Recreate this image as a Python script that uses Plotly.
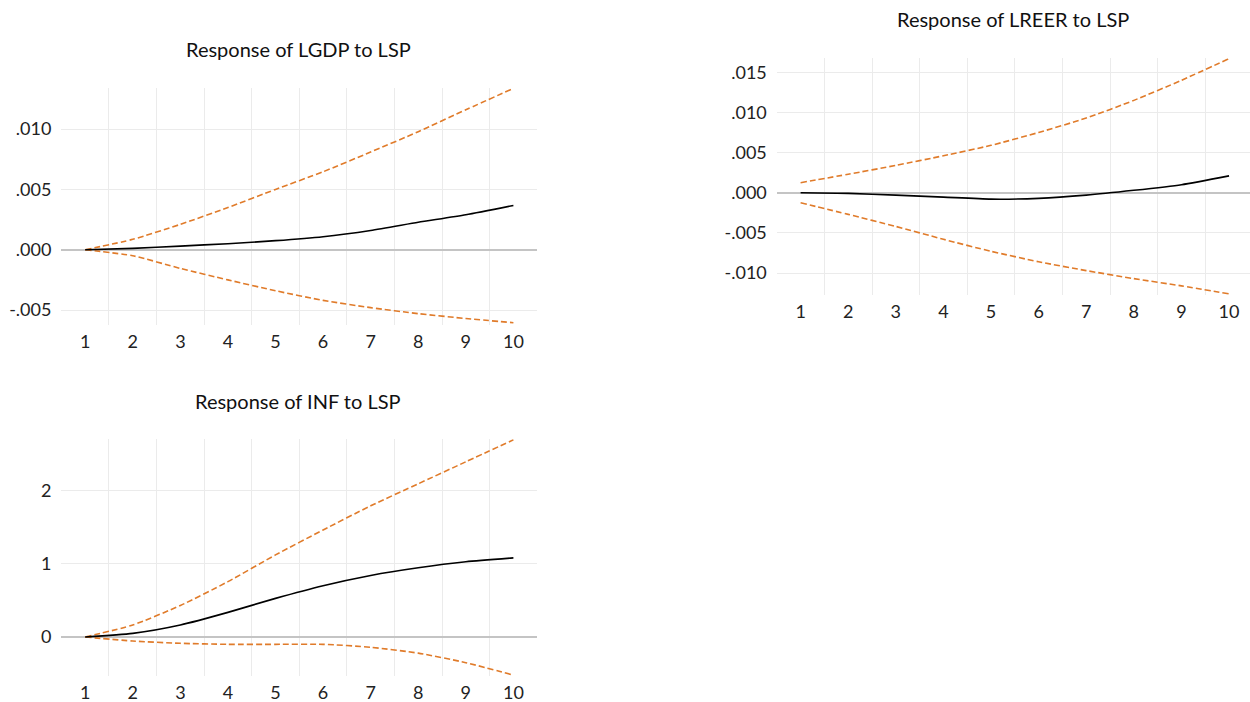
import plotly.graph_objects as go

periods = [1, 2, 3, 4, 5, 6, 7, 8, 9, 10]

# Response of LGDP to LSP
lgdp_resp = [0.0, 0.00011, 0.0003, 0.0005, 0.00075, 0.00108, 0.0016, 0.00227, 0.0029, 0.00367]
lgdp_upper = [0.0, 0.00086, 0.0021, 0.0035, 0.0050, 0.00646, 0.0081, 0.00978, 0.0116, 0.01337]
lgdp_lower = [0.0, -0.0005, -0.00155, -0.0025, -0.0034, -0.0042, -0.0048, -0.0053, -0.0057, -0.00605]

# Response of LREER to LSP
lreer_resp = [0.0, -0.00008, -0.0003, -0.00055, -0.0008, -0.0007, -0.0003, 0.0003, 0.0010, 0.0021]
lreer_upper = [0.00125, 0.0023, 0.0034, 0.0046, 0.0059, 0.0075, 0.0093, 0.0115, 0.0140, 0.0167]
lreer_lower = [-0.00125, -0.0027, -0.0042, -0.0058, -0.0073, -0.0086, -0.0097, -0.0107, -0.0116, -0.0126]

# Response of INF to LSP
inf_resp = [0.0, 0.05, 0.164, 0.336, 0.527, 0.70, 0.84, 0.945, 1.027, 1.08]
inf_upper = [0.0, 0.164, 0.43, 0.755, 1.12, 1.46, 1.79, 2.09, 2.39, 2.69]
inf_lower = [0.0, -0.055, -0.086, -0.10, -0.10, -0.10, -0.14, -0.22, -0.35, -0.52]

titles = ["Response of LGDP to LSP", "Response of LREER to LSP", "Response of INF to LSP"]

W, H = 1250, 702
ORANGE = "#E07B2A"
GRID = "#ebebeb"
FONT = "Lato, 'Open Sans', sans-serif"

# pixel boxes of each panel: (left, right, top, bottom) and the x range shown
boxes = [(61.4, 537.2, 88.3, 325.0), (776.8, 1250.0, 58.3, 295.0), (61.4, 537.2, 439.3, 676.0)]
xranges = [(0.5, 10.5), (0.5, 10.44), (0.5, 10.5)]
yranges = [(-0.00624, 0.01338), (-0.01274, 0.01674), (-0.532, 2.697)]
title_y = [48.5, 19.3, 401.0]
title_x = [298.2, 1013.2, 298.2]
ytickvals = [[-0.005, 0.0, 0.005, 0.010],
             [-0.010, -0.005, 0.0, 0.005, 0.010, 0.015],
             [0, 1, 2]]
yticktext = [["-.005", ".000", ".005", ".010"],
             ["-.010", "-.005", ".000", ".005", ".010", ".015"],
             ["0", "1", "2"]]
series = [(lgdp_resp, lgdp_upper, lgdp_lower),
          (lreer_resp, lreer_upper, lreer_lower),
          (inf_resp, inf_upper, inf_lower)]

fig = go.Figure()
layout = dict(width=W, height=H, margin=dict(l=0, r=0, t=0, b=0),
              paper_bgcolor="white", plot_bgcolor="white", showlegend=False,
              font=dict(family=FONT, size=18, color="#222222"))
annotations = []

for i, (box, xr, yr, tv, tt, (resp, up, lo)) in enumerate(
        zip(boxes, xranges, yranges, ytickvals, yticktext, series)):
    n = "" if i == 0 else str(i + 1)
    xa, ya = "x" + n, "y" + n
    l, r, t, b = box
    layout["xaxis" + n] = dict(
        domain=[l / W, r / W], range=list(xr), anchor=ya,
        tickvals=periods, ticktext=[str(p) for p in periods],
        showgrid=False, zeroline=False, showline=False, ticks="",
        ticklabelstandoff=4,
        tickfont=dict(size=18, family=FONT, color="#222222"),
        minor=dict(tickvals=[p + 0.5 for p in periods[:-1]], showgrid=True,
                   gridcolor=GRID, gridwidth=1, ticks=""),
        fixedrange=True,
    )
    layout["yaxis" + n] = dict(
        domain=[1 - b / H, 1 - t / H], range=list(yr), anchor=xa,
        tickvals=tv, ticktext=tt, showgrid=True, gridcolor=GRID, gridwidth=1,
        zeroline=True, zerolinecolor="#c4c4c4", zerolinewidth=1.5,
        showline=False, ticks="", ticklabelstandoff=9,
        tickfont=dict(size=18, family=FONT, color="#222222"),
        fixedrange=True,
    )
    for vals, color, dash in ((up, ORANGE, "6px,3px"), (lo, ORANGE, "6px,3px"), (resp, "black", "solid")):
        fig.add_trace(go.Scatter(x=periods, y=vals, mode="lines", xaxis=xa, yaxis=ya,
                                 line=dict(color=color, width=1.6, dash=dash,
                                           shape="spline", smoothing=0.6),
                                 cliponaxis=False, hoverinfo="skip"))
    annotations.append(dict(text=titles[i], x=title_x[i] / W, y=1 - title_y[i] / H,
                            xref="paper", yref="paper", showarrow=False,
                            xanchor="center", yanchor="middle",
                            font=dict(size=20, family=FONT, color="#111111")))

layout["annotations"] = annotations
fig.update_layout(**layout)
fig.write_html("out.html")
